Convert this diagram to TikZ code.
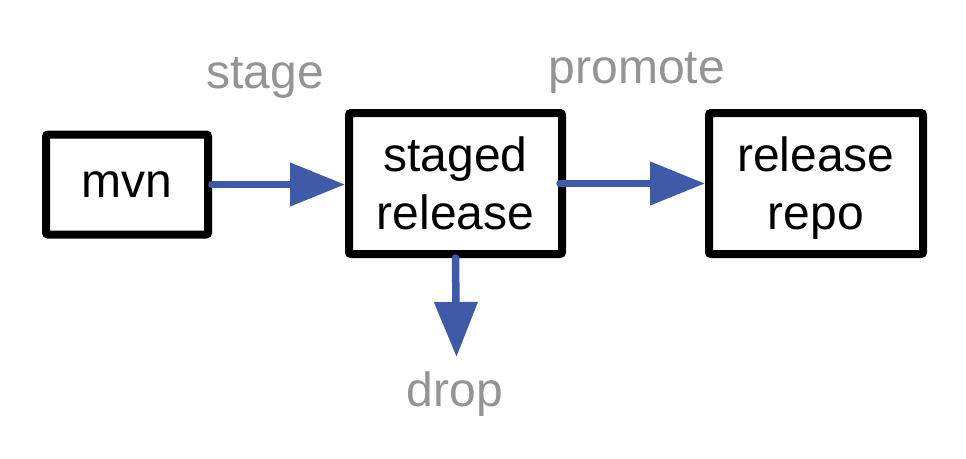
\documentclass[tikz,border=0pt]{standalone}
\usepackage{fontspec}
\setmainfont{Liberation Sans}
\usetikzlibrary{arrows.meta}
\definecolor{flowblue}{RGB}{63,90,168}
\definecolor{labelgray}{RGB}{148,148,148}
\begin{document}
\begin{tikzpicture}[x=1pt,y=-1pt,
  box/.style={draw=black,line width=8pt,rounded corners=2pt,fill=white,
    align=center,inner sep=0pt,text depth=0pt,
    font=\fontsize{48}{58}\selectfont},
  flow/.style={draw=flowblue,line width=7.5pt,line cap=round,
    -{Triangle[length=55pt,width=42pt]}},
  lbl/.style={text=labelgray,anchor=base,inner sep=0pt,
    font=\fontsize{48}{58}\selectfont}]
\useasboundingbox (0,0) rectangle (966,458);
\node[box,minimum width=162pt,minimum height=100pt] (mvn) at (127,184.5) {mvn};
\node[box,minimum width=213pt,minimum height=141pt] (staged) at (455.5,183.5) {staged\\release};
\node[box,minimum width=214pt,minimum height=141pt] (repo) at (816,183.5) {release\\repo};
\coordinate (dropend) at (456.5,357);
\draw[flow] (mvn.east) -- (staged.west |- mvn.east);
\draw[flow] ([xshift=-6pt]staged.east) -- (repo.west);
\draw[flow] (staged.south) -- (dropend);
\node[lbl] (stagelbl) at (265,88) {stage};
\node[lbl] (promotelbl) at (637,83) {promote};
\node[lbl] (droplbl) at (455,406) {drop};
\end{tikzpicture}
\end{document}
